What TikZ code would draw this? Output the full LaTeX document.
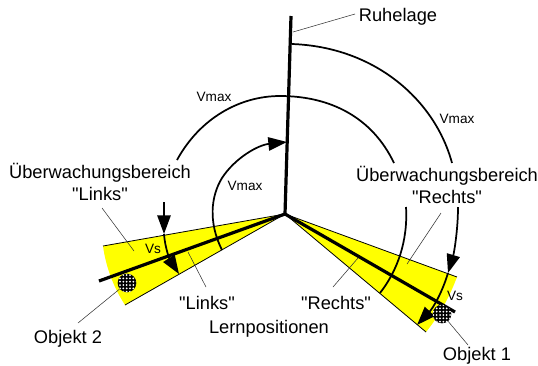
\documentclass[tikz,border=0pt]{standalone}
\usepackage{fontspec}
\setmainfont{Liberation Sans}[Ligatures=TeXOff]
\usetikzlibrary{arrows.meta, patterns}
\definecolor{zonefill}{HTML}{FFFF00}
\pgfdeclarepatternformonly{objektdots}{\pgfqpoint{-1pt}{-1pt}}{\pgfqpoint{1pt}{1pt}}{\pgfqpoint{2.5pt}{2.5pt}}{
    \pgfpathcircle{\pgfqpoint{0pt}{0pt}}{0.75pt}\pgfusepath{fill}}
\begin{document}
\begin{tikzpicture}[x=0.75pt, y=-0.75pt,
    every node/.style={font=\fontsize{13.7}{16}\selectfont, inner sep=0pt, align=center},
    smalllabel/.style={font=\fontsize{10.2}{12}\selectfont},
    zone/.style={fill=zonefill},
    zoneedge/.style={draw=black, line width=0.6pt},
    pointer/.style={draw=black!80, line width=0.4pt},
    axis/.style={draw=black, line width=2.4pt},
    sweep/.style={draw=black, line width=1.3pt},
    sweeptip/.style={sweep, -{Triangle[length=14pt, width=10pt]}},
    objekt/.style={circle, minimum size=14pt, fill=black,
        postaction={pattern=objektdots, pattern color=white}},
]
\useasboundingbox (0,0) rectangle (538,365);

% Yellow zones
\coordinate (pivot) at (285,214);
\coordinate (zl1) at (103,246);
\coordinate (zl2) at (125,305);
\coordinate (zr1) at (457,277);
\coordinate (zr2) at (426,332);
\fill[zone] (pivot) -- (zl1) .. controls (106,268) and (114,288) .. (zl2) -- cycle;
\fill[zone] (pivot) -- (zr1) .. controls (449,298) and (439,316) .. (zr2) -- cycle;
\draw[zoneedge] (zl1) -- (pivot) -- (zl2);
\draw[zoneedge] (zr1) -- (pivot) -- (zr2);

% Arcs
\draw[sweep] (292,44) .. controls (375,47) and (435,100) .. (452,163);
\draw[sweeptip] (458,207) .. controls (458,230) and (454,253) .. (448,273);
\draw[sweeptip] (448,273) .. controls (442,293) and (433,308) .. (417,325);
\draw[sweep] (394,163) .. controls (372,117) and (330,96) .. (280,96)
    .. controls (240,96) and (200,118) .. (177,160);
\draw[sweep] (406,207) .. controls (408,240) and (398,270) .. (380,293);
\draw[sweeptip] (164,202) -- (164,234);
\draw[sweeptip] (164,234) .. controls (165,248) and (170,260) .. (179,274);
\draw[sweeptip] (222,250) .. controls (208,222) and (211,196) .. (222,178)
    .. controls (235,158) and (258,145) .. (287,142);

% Main axes
\draw[axis] (291,16) -- (pivot);
\draw[axis] (99,281) -- (pivot) -- (455,312);

% Objects
\node[objekt] (obj2) at (127,283) {};
\node[objekt] (obj1) at (442,314) {};

% Labels
\node (ruhe) at (398,17) {Ruhelage};
\node (ueblinks) at (100,182) {Überwachungsbereich\\"Links"};
\node (uebrechts) at (447,185) {Überwachungsbereich\\"Rechts"};
\node (lernlinks) at (207,303) {"Links"};
\node (lernrechts) at (336,303) {"Rechts"};
\node (lern) at (269,329) {Lernpositionen};
\node (objzwei) at (68,339) {Objekt 2};
\node (objeins) at (477,356) {Objekt 1};
\node[smalllabel] (vmaxa) at (214,97) {Vmax};
\node[smalllabel] (vmaxb) at (245,186) {Vmax};
\node[smalllabel] (vmaxc) at (457,119) {Vmax};
\node[smalllabel] (vsa) at (153,249) {Vs};
\node[smalllabel] (vsb) at (455,296) {Vs};

% Pointer lines
\coordinate (ruhefoot) at (293,32);
\coordinate (llzone) at (134,251);
\coordinate (llhead) at (102,208);
\coordinate (lrzone) at (407,264);
\coordinate (lrhead) at (441,213);
\coordinate (lernlfoot) at (188,252);
\coordinate (lernlhead) at (206,287);
\coordinate (lernrfoot) at (358,258);
\coordinate (lernrhead) at (333,287);
\draw[pointer] (ruhefoot) -- (355,14);
\draw[pointer] (llhead) -- (llzone);
\draw[pointer] (lrhead) -- (lrzone);
\draw[pointer] (lernlhead) -- (lernlfoot);
\draw[pointer] (lernrhead) -- (lernrfoot);
\draw[pointer] (obj2) -- (78,323);
\draw[pointer] (obj1) -- (468,345);
\end{tikzpicture}
\end{document}
